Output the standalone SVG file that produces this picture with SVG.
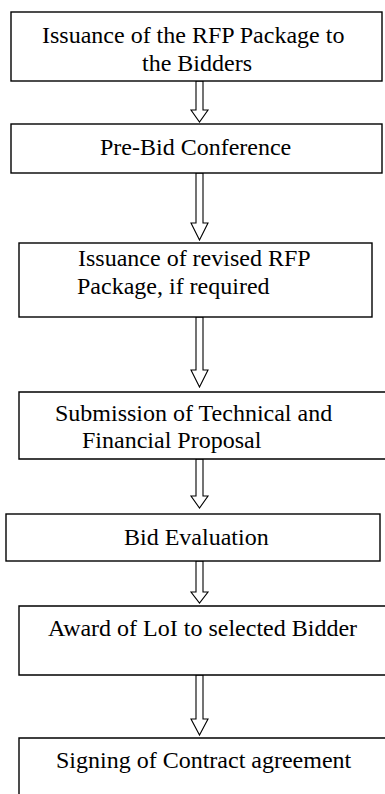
<svg xmlns="http://www.w3.org/2000/svg" width="385" height="794" viewBox="0 0 385 794">
<style>
.box{fill:#fff;stroke:#000;stroke-width:1.4}
.arr{fill:#fff;stroke:#000;stroke-width:1.1;stroke-linejoin:miter}
.t{font-family:'Liberation Serif','DejaVu Serif',serif;font-size:24px;fill:#000}
</style>
<rect width="385" height="794" fill="#fff"/>
<g id="connectors">
<polygon class="arr" points="196,81 203,81 203,110 208,110 199.5,122 191,110 196,110"/>
<polygon class="arr" points="196,173 203,173 203,223 208,223 199.5,240 191,223 196,223"/>
<polygon class="arr" points="196,317 203,317 203,370 208,370 199.5,387 191,370 196,370"/>
<polygon class="arr" points="196,459 203,459 203,496 208,496 199.5,508 191,496 196,496"/>
<polygon class="arr" points="196,561 203,561 203,592 208,592 199.5,603 191,592 196,592"/>
<polygon class="arr" points="196,675 203,675 203,719 208,719 199.5,735 191,719 196,719"/>
</g>
<g id="n1">
<rect class="box" x="11" y="12" width="371" height="69"/>
<text class="t" font-family="Liberation Serif" x="42" y="43">Issuance of the RFP Package to</text>
<text class="t" font-family="Liberation Serif" x="142" y="71">the Bidders</text>
</g>
<g id="n2">
<rect class="box" x="11" y="124" width="371" height="49"/>
<text class="t" font-family="Liberation Serif" x="100" y="155">Pre-Bid Conference</text>
</g>
<g id="n3">
<rect class="box" x="19" y="243" width="353" height="74"/>
<text class="t" font-family="Liberation Serif" x="78" y="266">Issuance of revised RFP</text>
<text class="t" font-family="Liberation Serif" x="77" y="294">Package, if required</text>
</g>
<g id="n4">
<path class="box" d="M390,392 H19 V459 H390"/>
<text class="t" font-family="Liberation Serif" x="55" y="421">Submission of Technical and</text>
<text class="t" font-family="Liberation Serif" x="82" y="448">Financial Proposal</text>
</g>
<g id="n5">
<rect class="box" x="6" y="514" width="374" height="47"/>
<text class="t" font-family="Liberation Serif" x="124" y="545">Bid Evaluation</text>
</g>
<g id="n6">
<path class="box" d="M390,606 H19 V675 H390"/>
<text class="t" font-family="Liberation Serif" x="48" y="636">Award of LoI to selected Bidder</text>
</g>
<g id="n7">
<path class="box" d="M390,738 H19 V800"/>
<text class="t" font-family="Liberation Serif" x="56" y="768">Signing of Contract agreement</text>
</g>
</svg>
